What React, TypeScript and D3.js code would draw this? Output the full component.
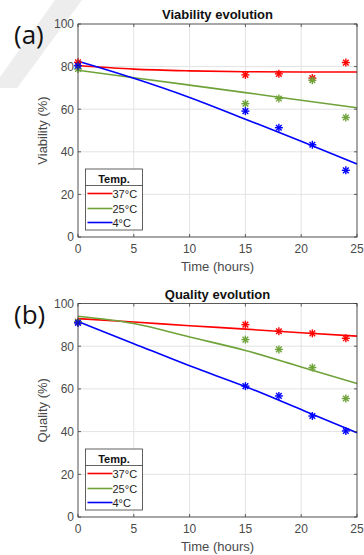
import React from "react";
import * as d3 from "d3";

const hours = [0, 15, 18, 21, 24];
const viab37 = [82.0, 76.1, 76.6, 74.6, 81.9];
const viab25 = [78.9, 62.6, 65.0, 73.6, 56.1];
const viab4 = [80.4, 59.1, 51.3, 43.3, 31.3];
const qual37 = [91.4, 90.1, 87.0, 86.0, 83.7];
const qual25 = [91.4, 83.1, 78.5, 70.0, 55.5];
const qual4 = [90.9, 61.3, 56.7, 47.3, 40.3];

const fitHours = [0, 5, 10, 15, 20, 25];
const viabFit37 = [80.5, 78.8, 78.0, 77.6, 77.5, 77.5];
const viabFit25 = [78.3, 74.8, 71.3, 67.8, 64.2, 60.7];
const viabFit4 = [82.5, 74.5, 65.5, 55.3, 45.0, 34.3];
const qualFit37 = [92.9, 91.3, 89.6, 88.0, 86.3, 84.7];
const qualFit25 = [94.0, 90.6, 84.3, 78.0, 70.3, 62.5];
const qualFit4 = [91.6, 81.2, 70.8, 61.1, 50.3, 39.5];

const seriesNames = ["37°C", "25°C", "4°C"];
const seriesColors = ["#ff0000", "#6fa33a", "#0000ff"];
const xTicks = [0, 5, 10, 15, 20, 25];
const yTicks = [0, 20, 40, 60, 80, 100];

const FONT = "'Liberation Sans', Arial, sans-serif";

function Asterisk({ x, y, color }: { x: number; y: number; color: string }) {
  const r = 4;
  const d = r * 0.7071;
  return (
    <g stroke={color} strokeWidth={1.4}>
      <line x1={x - r} y1={y} x2={x + r} y2={y} />
      <line x1={x} y1={y - r} x2={x} y2={y + r} />
      <line x1={x - d} y1={y - d} x2={x + d} y2={y + d} />
      <line x1={x - d} y1={y + d} x2={x + d} y2={y - d} />
    </g>
  );
}

function Panel({
  top,
  bottom,
  title,
  yLabel,
  tag,
  points,
  fits,
}: {
  top: number;
  bottom: number;
  title: string;
  yLabel: string;
  tag: string;
  points: number[][];
  fits: number[][];
}) {
  const left = 78;
  const right = 357;
  const x = d3.scaleLinear().domain([0, 25]).range([left, right]);
  const y = d3.scaleLinear().domain([0, 100]).range([bottom, top]);
  const line = d3
    .line<[number, number]>()
    .x((d) => x(d[0]))
    .y((d) => y(d[1]))
    .curve(d3.curveMonotoneX);
  const lgTop = bottom - 68;
  const lgLeft = 85.5;
  const lgRight = 142.5;
  return (
    <g fontFamily={FONT}>
      {/* grid */}
      {xTicks.map((t) => (
        <line key={"gx" + t} x1={x(t)} x2={x(t)} y1={top} y2={bottom} stroke="#e3e3e3" strokeWidth={1} />
      ))}
      {yTicks.map((t) => (
        <line key={"gy" + t} x1={left} x2={right} y1={y(t)} y2={y(t)} stroke="#e3e3e3" strokeWidth={1} />
      ))}
      {/* fits */}
      {fits.map((f, i) => (
        <path
          key={"f" + i}
          d={line(fitHours.map((h, j) => [h, f[j]] as [number, number])) || ""}
          fill="none"
          stroke={seriesColors[i]}
          strokeWidth={1.6}
        />
      ))}
      {/* points */}
      {points.map((p, i) =>
        p.map((v, j) => <Asterisk key={"p" + i + "-" + j} x={x(hours[j])} y={y(v)} color={seriesColors[i]} />)
      )}
      {/* axes box */}
      <rect x={left} y={top} width={right - left} height={bottom - top} fill="none" stroke="#3a3a3a" strokeWidth={0.8} />
      {xTicks.map((t) => (
        <g key={"tx" + t}>
          <line x1={x(t)} x2={x(t)} y1={bottom} y2={bottom - 3} stroke="#3a3a3a" strokeWidth={0.8} />
          <line x1={x(t)} x2={x(t)} y1={top} y2={top + 3} stroke="#3a3a3a" strokeWidth={0.8} />
          <text x={x(t)} y={bottom + 16} textAnchor="middle" fontSize={12} fill="#4a4a4a">
            {t}
          </text>
        </g>
      ))}
      {yTicks.map((t) => (
        <g key={"ty" + t}>
          <line x1={left} x2={left + 3} y1={y(t)} y2={y(t)} stroke="#3a3a3a" strokeWidth={0.8} />
          <line x1={right} x2={right - 3} y1={y(t)} y2={y(t)} stroke="#3a3a3a" strokeWidth={0.8} />
          <text x={left - 4} y={y(t) + 4.3} textAnchor="end" fontSize={12} fill="#4a4a4a">
            {t}
          </text>
        </g>
      ))}
      <text x={(left + right) / 2} y={top - 5} textAnchor="middle" fontSize={13} fontWeight="bold" fill="#111">
        {title}
      </text>
      <text x={(left + right) / 2} y={bottom + 34} textAnchor="middle" fontSize={13} fill="#4a4a4a">
        Time (hours)
      </text>
      <text
        transform={`translate(47,${(top + bottom) / 2}) rotate(-90)`}
        textAnchor="middle"
        fontSize={13}
        fill="#4a4a4a"
      >
        {yLabel}
      </text>
      <text x={14} y={top + 20} fontSize={26} fill="#111" fontFamily="'Open Sans', 'Noto Sans', sans-serif">
        {tag}
      </text>
      {/* legend */}
      <rect x={lgLeft} y={lgTop} width={lgRight - lgLeft} height={61} fill="#fff" stroke="#3a3a3a" strokeWidth={0.8} />
      <text x={(lgLeft + lgRight) / 2} y={lgTop + 13.5} textAnchor="middle" fontSize={11} fontWeight="bold" fill="#111">
        Temp.
      </text>
      <line x1={lgLeft} x2={lgRight} y1={lgTop + 16.5} y2={lgTop + 16.5} stroke="#3a3a3a" strokeWidth={0.8} />
      {seriesNames.map((n, i) => {
        const yy = lgTop + [24.5, 39.5, 53.5][i];
        return (
          <g key={"lg" + i}>
            <line x1={87.5} x2={112.5} y1={yy} y2={yy} stroke={seriesColors[i]} strokeWidth={1.6} />
            <text x={112.5} y={yy + 4} fontSize={11} fill="#222">
              {n}
            </text>
          </g>
        );
      })}
    </g>
  );
}

export default function App() {
  return (
    <svg
      width={364}
      height={555}
      style={{ position: "absolute", left: 0, top: 0, background: "#fff" }}
    >
      <rect x={0} y={0} width={364} height={555} fill="#fff" />
      <polygon points="55,0 82,0 17,88 0,88 0,77" fill="#ededed" />
      <Panel
        top={24}
        bottom={237}
        title="Viability evolution"
        yLabel="Viability (%)"
        tag="(a)"
        points={[viab37, viab25, viab4]}
        fits={[viabFit37, viabFit25, viabFit4]}
      />
      <Panel
        top={303.5}
        bottom={517}
        title="Quality evolution"
        yLabel="Quality (%)"
        tag="(b)"
        points={[qual37, qual25, qual4]}
        fits={[qualFit37, qualFit25, qualFit4]}
      />
    </svg>
  );
}
